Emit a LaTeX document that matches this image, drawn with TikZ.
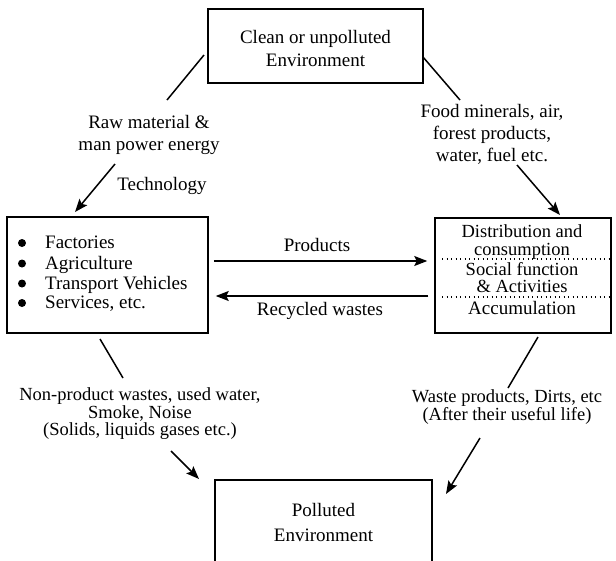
\documentclass[tikz,border=0pt]{standalone}
\usepackage{fontspec}
\setmainfont{Liberation Serif}
\usetikzlibrary{arrows.meta}
\begin{document}
\begin{tikzpicture}[x=1pt,y=-1pt,
  lbl/.style={font=\fontsize{19}{22}\selectfont, align=center, inner sep=0pt},
  tight/.style={font=\fontsize{18.5}{17.5}\selectfont},
  boxed/.style={draw, line width=1.5pt, inner sep=0pt},
  conn/.style={line width=1.5pt},
  arr/.style={line width=1.5pt, -{Stealth[length=13pt,width=10pt,inset=2.5pt]}},
  dotsep/.style={line width=1.3pt, dash pattern=on 1.3pt off 3.2pt}]
\useasboundingbox (0,0) rectangle (616,560);
\clip (0,0) rectangle (616,560);

% boxes
\node[boxed, minimum width=215pt, minimum height=74pt] (top) at (315.5,46) {};
\node[lbl, font=\fontsize{19}{23}\selectfont] (toptxt) at (315.5,48) {Clean or unpolluted\\Environment};

\node[boxed, minimum width=201pt, minimum height=116pt] (left) at (107.5,275) {};
\node[lbl, anchor=base west] (l1) at (45,248.5) {Factories};
\node[lbl, anchor=base west] (l2) at (45,269) {Agriculture};
\node[lbl, anchor=base west] (l3) at (45,289) {Transport Vehicles};
\node[lbl, anchor=base west] (l4) at (45,308.5) {Services, etc.};
\foreach \yy in {243,263.5,283.5,303} \fill (22,\yy) circle (4);

\node[boxed, minimum width=176pt, minimum height=115pt] (right) at (523,275.5) {};
\node[lbl, anchor=base, font=\fontsize{18.5}{18}\selectfont] (r1) at (522,237) {Distribution and};
\node[lbl, anchor=base, font=\fontsize{18.5}{18}\selectfont] (r2) at (522,255) {consumption};
\node[lbl, anchor=base, font=\fontsize{18.5}{18}\selectfont] (r3) at (522,275) {Social function};
\node[lbl, anchor=base, font=\fontsize{18.5}{18}\selectfont] (r4) at (522,292.5) {\& Activities};
\node[lbl, anchor=base] (r5) at (522,314) {Accumulation};
\coordinate (d1) at (442,259);
\coordinate (d2) at (442,297);
\draw[dotsep] (d1) -- (right.east |- d1);
\draw[dotsep] (d2) -- (right.east |- d2);

\node[boxed, minimum width=217pt, minimum height=100pt, anchor=north] (bot) at (323.5,479) {};
\node[lbl, font=\fontsize{19}{25}\selectfont] (bottxt) at (323.5,522) {Polluted\\Environment};

% labels
\node[lbl] (raw) at (149,135) {Raw material \&\\man power energy};
\node[lbl, anchor=base] (tech) at (162,190) {Technology};
\node[lbl] (food) at (492,134) {Food minerals, air,\\forest products,\\water, fuel etc.};
\node[lbl, anchor=base] (prod) at (317,251) {Products};
\node[lbl, anchor=base] (recy) at (320,315) {Recycled wastes};
\node[lbl, tight] (nonp) at (140,414) {Non-product wastes, used water,\\Smoke, Noise\\(Solids, liquids gases etc.)};
\node[lbl, tight] (wastep) at (507,407) {Waste products, Dirts, etc\\(After their useful life)};

% connector end points
\coordinate (a1) at (204,55);
\coordinate (a2) at (167,100);
\coordinate (a3) at (115,164);
\coordinate (a4) at (75,212);
\coordinate (b1) at (423,57);
\coordinate (b2) at (460,100);
\coordinate (b3) at (517,165);
\coordinate (b4) at (560,215);
\coordinate (c1) at (100,339);
\coordinate (c2) at (123,378);
\coordinate (c3) at (171,451);
\coordinate (c4) at (199,479);
\coordinate (e1) at (538,337);
\coordinate (e2) at (508,388);
\coordinate (e3) at (480,438);
\coordinate (e4) at (446,494);
\coordinate (pa) at (0,261);
\coordinate (pb) at (0,296);

% connectors
\draw[conn] (a1) -- (a2);
\draw[arr] (a3) -- (a4);
\draw[conn] (b1) -- (b2);
\draw[arr] (b3) -- (b4);
\draw[conn] (c1) -- (c2);
\draw[arr] (c3) -- (c4);
\draw[conn] (e1) -- (e2);
\draw[arr] (e3) -- (e4);
\draw[arr, shorten <=5pt, shorten >=7pt] (left.east |- pa) -- (right.west |- pa);
\draw[arr, shorten <=6pt, shorten >=7pt] (right.west |- pb) -- (left.east |- pb);
\end{tikzpicture}
\end{document}
